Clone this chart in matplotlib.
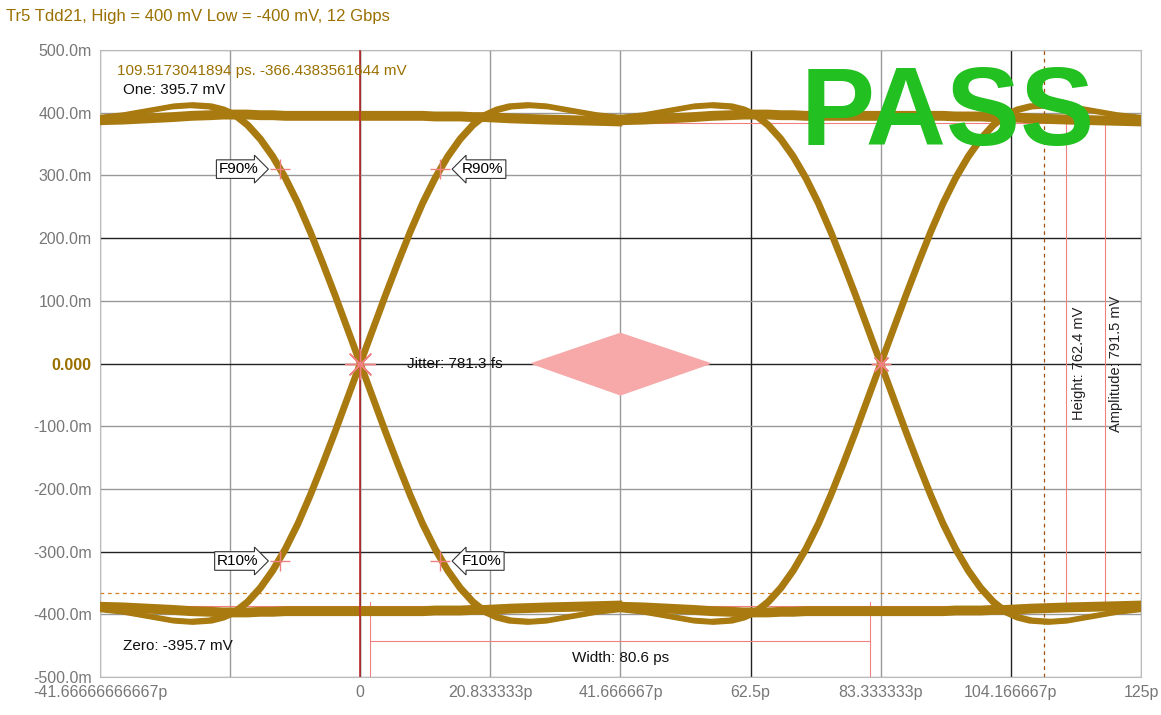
import matplotlib
matplotlib.use("Agg")
import matplotlib.pyplot as plt
import numpy as np
from matplotlib.patches import Polygon

# Edge shape (time offset from crossing in ps, mV)
edge_t = [-41.67, -38, -34, -30, -27, -24, -22, -20, -18, -16, -14, -12, -10, -8, -6, -4, -2, 0,
          2, 4, 6, 8, 10, 12, 14, 16, 18, 20, 22, 24, 27, 30, 34, 38, 41.67]
fall_v = [392, 396, 403, 410, 412, 410, 405, 396, 380, 358, 330, 296, 256, 210, 160, 108, 54, 0,
          -54, -108, -160, -210, -256, -296, -330, -358, -380, -396, -405, -410, -412, -410, -403, -396, -392]
hold_hi = [388, 389, 391, 393, 395, 396, 397, 397, 397, 396, 396, 395, 395, 395, 395, 395, 395, 395,
           395, 395, 395, 395, 395, 394, 394, 394, 393, 393, 392, 391, 390, 389, 388, 387, 386]
crossings = [0, 83.333333]
offsets = [-5, -2, 2, 5]

xticks = [-41.6666666667, 0, 20.833333, 41.666667, 62.5, 83.333333, 104.166667, 125]
xlabels = ["-41.66666666667p", "0", "20.833333p", "41.666667p", "62.5p", "83.333333p", "104.166667p", "125p"]
yticks = [500, 400, 300, 200, 100, 0, -100, -200, -300, -400, -500]
ylabels = ["500.0m", "400.0m", "300.0m", "200.0m", "100.0m", "0.000", "-100.0m", "-200.0m", "-300.0m", "-400.0m", "-500.0m"]

plt.rcParams['font.family'] = ['Liberation Sans', 'DejaVu Sans']
fig = plt.figure(figsize=(11.61, 7.15), dpi=100)
ax = fig.add_axes([100/1161, 38/715, 1041/1161, 627/715])
ax.set_xlim(-41.6666666667, 125)
ax.set_ylim(-500, 500)

gx = [-41.6666666667 + 20.8333333 * i for i in range(9)]
for x in gx:
    dark = abs(x) < 1 or abs(x - 62.5) < 1 or abs(x - 104.1667) < 1
    ax.axvline(x, color='#222' if dark else '#999', lw=1, zorder=1)
for y in yticks:
    dark = y in (200, 0, -300)
    ax.axhline(y, color='#222' if dark else '#999', lw=1, zorder=1)

col = '#a87a10'
et = np.array(edge_t)
for c in crossings:
    for o in offsets:
        ax.plot(et + c + o * 0.04, np.array(fall_v) + o * 0.4, color=col, lw=2.6, zorder=3)
        ax.plot(et + c - o * 0.04, -np.array(fall_v) + o * 0.4, color=col, lw=2.6, zorder=3)
        ax.plot(et + c, np.array(hold_hi) + o, color=col, lw=2.6, zorder=3)
        ax.plot(et + c, -np.array(hold_hi) + o, color=col, lw=2.6, zorder=3)

pink = '#f08080'
ax.axvline(0, color='#c03030', lw=1.2, zorder=4)
for x, y0, y1 in [(1.6, -500, -380), (81.6, -500, -380), (113, -380, 384), (119.2, -380, 384)]:
    ax.plot([x, x], [y0, y1], color=pink, lw=0.8, zorder=2)
ax.plot([41.67, 125], [384, 384], color=pink, lw=0.8, zorder=2)
ax.plot([-41.67, 125], [-386, -386], color=pink, lw=0.8, zorder=2)
ax.plot([1.6, 81.6], [-442, -442], color=pink, lw=0.8, zorder=2)
ax.axhline(-366.438, color='#d08020', lw=0.9, ls=(0, (3, 3)), zorder=2)
ax.axvline(109.517, color='#a05010', lw=0.9, ls=(0, (3, 3)), zorder=2)
ax.add_patch(Polygon([[27.5, 0], [41.67, 48], [56, 0], [41.67, -50]], closed=True, color='#f7a8a8', zorder=2))
for px, py, lab, side in [(-12.8, 310, "F90%", 'l'), (12.8, 310, "R90%", 'r'),
                          (-12.8, -315, "R10%", 'l'), (12.8, -315, "F10%", 'r')]:
    ax.plot(px, py, '+', color=pink, ms=14, mew=1, zorder=5)
    if side == 'l':
        ax.text(px - 3.5, py, lab, ha='right', va='center', fontsize=11, zorder=6,
                bbox=dict(boxstyle='rarrow,pad=0.15', fc='white', ec='#333', lw=0.8))
    else:
        ax.text(px + 3.5, py, lab, ha='left', va='center', fontsize=11, zorder=6,
                bbox=dict(boxstyle='larrow,pad=0.15', fc='white', ec='#333', lw=0.8))
ax.plot(0, 0, marker=(8, 2, 0), color=pink, ms=22, mew=1, zorder=5)
ax.plot(83.33, 0, marker=(8, 2, 0), color=pink, ms=14, mew=1, zorder=5)

ax.text(-39, 478, "109.5173041894 ps. -366.4383561644 mV", color='#9a7000', fontsize=11, va='top', zorder=6)
ax.text(-38, 448, "One: 395.7 mV", color='#111', fontsize=11, va='top', zorder=6)
ax.text(-38, -450, "Zero: -395.7 mV", color='#111', fontsize=11, va='center', zorder=6)
ax.text(7.5, 0, "Jitter: 781.3 fs", color='#111', fontsize=11, va='center', zorder=6)
ax.text(41.67, -470, "Width: 80.6 ps", color='#111', fontsize=11, ha='center', va='center', zorder=6)
ax.text(115, 0, "Height: 762.4 mV", rotation=90, fontsize=10.5, ha='center', va='center', color='#222', zorder=6)
ax.text(121, 0, "Amplitude: 791.5 mV", rotation=90, fontsize=10.5, ha='center', va='center', color='#222', zorder=6)
ax.text(94, 395, "PASS", color='#22c020', fontsize=80, fontweight='bold', ha='center', va='center', zorder=7)

ax.set_xticks(xticks)
ax.set_xticklabels(xlabels, color='#777', fontsize=11.5)
ax.set_yticks(yticks)
ax.set_yticklabels(ylabels, color='#777', fontsize=11.5)
for t in ax.get_yticklabels():
    if t.get_text() == "0.000":
        t.set_color('#9a7000'); t.set_fontweight('bold')
ax.tick_params(length=0, pad=6)
for s in ax.spines.values():
    s.set_color('#bbb')
fig.text(6/1161, 1 - 16/715, "Tr5 Tdd21, High = 400 mV Low = -400 mV, 12 Gbps", color='#9a7000', fontsize=12, va='center')
fig.savefig("out.png", dpi=100)
